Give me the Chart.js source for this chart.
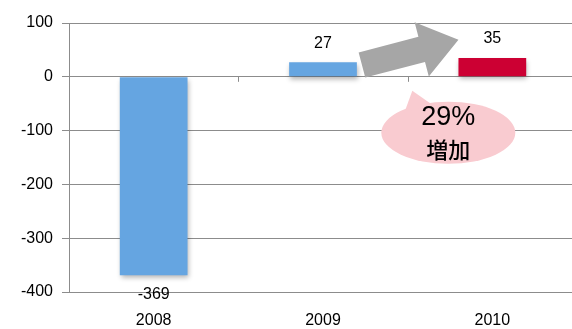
<!DOCTYPE html>
<html>
<head>
<meta charset="utf-8">
<script src="https://cdn.jsdelivr.net/npm/chart.js@4.4.1/dist/chart.umd.min.js"></script>
<style>
  html, body { margin: 0; padding: 0; background: #fff; overflow: hidden; }
  #wrap { width: 577px; height: 329px; position: relative; }
</style>
</head>
<body>
<div id="wrap"><canvas id="chart"></canvas></div>
<script>
// 데이터
var years = ['2008', '2009', '2010'];
var values = [-369, 27, 35];
var barColors = ['#65A5E1', '#65A5E1', '#CC0033'];
var yTicks = [100, 0, -100, -200, -300, -400];
var calloutLines = ['29%', '増加'];

var FONT = '"Liberation Sans", Arial, sans-serif';
var GRID = '#8c8c8c';

// 막대 그림자
var shadowPlugin = {
    id: 'barShadow',
    beforeDatasetsDraw: function(chart) {
        var ctx = chart.ctx;
        ctx.save();
        ctx.shadowColor = 'rgba(0,0,0,0.3)';
        ctx.shadowBlur = 5;
        ctx.shadowOffsetX = 1;
        ctx.shadowOffsetY = 3;
    },
    afterDatasetsDraw: function(chart) {
        chart.ctx.restore();
    }
};

// 값 라벨, 화살표, 말풍선
var decoPlugin = {
    id: 'deco',
    afterDraw: function(chart) {
        var ctx = chart.ctx;
        var x = chart.scales.x, y = chart.scales.y;
        var meta = chart.getDatasetMeta(0);

        // 0선 위의 카테고리 눈금
        ctx.save();
        ctx.strokeStyle = GRID;
        ctx.lineWidth = 1;
        [0.5, 1.5].forEach(function(v) {
            var px = Math.round(x.getPixelForValue(v)) + 0.5;
            var py = y.getPixelForValue(0);
            ctx.beginPath();
            ctx.moveTo(px, py);
            ctx.lineTo(px, py + 5);
            ctx.stroke();
        });
        ctx.restore();

        // 값 라벨
        ctx.save();
        ctx.font = '16px ' + FONT;
        ctx.fillStyle = '#000';
        ctx.textAlign = 'center';
        ctx.textBaseline = 'middle';
        meta.data.forEach(function(bar, i) {
            var v = values[i];
            var ly = v < 0 ? bar.y + 19 : bar.y - 19;
            ctx.fillText(String(v), bar.x, ly);
        });
        ctx.restore();

        // 화살표
        var tx = x.getPixelForValue(1.23), ty = y.getPixelForValue(22);
        var hx = x.getPixelForValue(1.8), hy = y.getPixelForValue(69);
        var ang = Math.atan2(hy - ty, hx - tx);
        var len = Math.hypot(hx - tx, hy - ty);
        ctx.save();
        ctx.translate(tx, ty);
        ctx.rotate(ang);
        ctx.fillStyle = '#A6A6A6';
        ctx.beginPath();
        ctx.moveTo(0, -13);
        ctx.lineTo(len - 38, -13);
        ctx.lineTo(len - 38, -28);
        ctx.lineTo(len, 0);
        ctx.lineTo(len - 38, 28);
        ctx.lineTo(len - 38, 13);
        ctx.lineTo(0, 13);
        ctx.closePath();
        ctx.fill();
        ctx.restore();

        // 말풍선
        var cx = x.getPixelForValue(1.74), cy = y.getPixelForValue(-104);
        ctx.save();
        ctx.fillStyle = '#F9CBD0';
        ctx.beginPath();
        ctx.ellipse(cx, cy, 67, 31, 0, 0, Math.PI * 2);
        ctx.fill();
        ctx.beginPath();
        ctx.moveTo(cx - 44, cy - 20);
        ctx.lineTo(cx - 36, cy - 42);
        ctx.lineTo(cx - 16, cy - 28);
        ctx.closePath();
        ctx.fill();
        ctx.fillStyle = '#000';
        ctx.textAlign = 'center';
        ctx.textBaseline = 'middle';
        ctx.font = '27px ' + FONT;
        ctx.fillText(calloutLines[0], cx, cy - 15);
        ctx.font = '500 22px "Noto Sans CJK JP", sans-serif';
        ctx.fillText(calloutLines[1], cx, cy + 17);
        ctx.restore();
    }
};

var chart = new Chart(document.getElementById('chart'), {
    type: 'bar',
    data: {
        labels: years,
        datasets: [{
            data: values,
            backgroundColor: barColors,
            borderWidth: 0,
            barPercentage: 0.4,
            categoryPercentage: 1
        }]
    },
    options: {
        responsive: true,
        maintainAspectRatio: false,
        animation: false,
        layout: { padding: { top: 23, right: 0, bottom: 0, left: 0 } },
        plugins: { legend: { display: false }, tooltip: { enabled: false } },
        scales: {
            x: {
                grid: { display: false, drawTicks: false },
                border: { display: true, color: GRID, width: 1 },
                ticks: { color: '#000', font: { family: FONT, size: 16 }, padding: 19 },
                afterFit: function(s) { s.height = 37; }
            },
            y: {
                min: -400,
                max: 100,
                afterBuildTicks: function(s) {
                    s.ticks = yTicks.map(function(v) { return { value: v }; });
                },
                grid: { color: GRID, lineWidth: 1, tickLength: 7 },
                border: { display: true, color: GRID, width: 1 },
                ticks: { color: '#000', font: { family: FONT, size: 16 }, padding: 9 },
                afterFit: function(s) { s.width = 69; }
            }
        }
    },
    plugins: [shadowPlugin, decoPlugin]
});
</script>
</body>
</html>
